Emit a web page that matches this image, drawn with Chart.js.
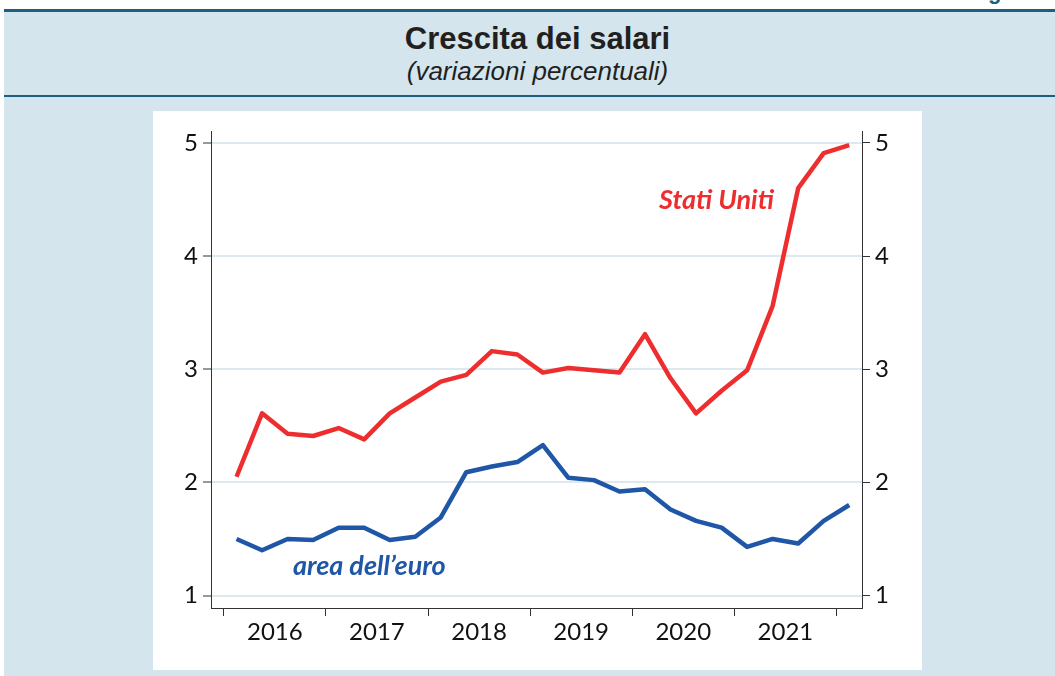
<!DOCTYPE html>
<html>
<head>
<meta charset="utf-8">
<script src="https://cdn.jsdelivr.net/npm/chart.js@4"></script>
<style>
  html, body { margin: 0; padding: 0; }
  body { width: 1055px; height: 676px; overflow: hidden; background: #fff; position: relative; font-family: "Liberation Sans", Arial, sans-serif; }
  #band { position: absolute; left: 4px; top: 9px; width: 1051px; height: 667px; background: #d4e5ee; border-top: 3px solid #1d5f80; box-sizing: border-box; }
  #corner { position: absolute; left: 988px; top: -19px; font: bold 22px/1 "Liberation Sans", Arial, sans-serif; color: #1d5f80; }
  #title { position: absolute; left: 0; width: 1075px; top: 23px; text-align: center; font: bold 31px/1 "Liberation Sans", Arial, sans-serif; color: #231f20; }
  #subtitle { position: absolute; left: 0; width: 1075px; top: 58px; text-align: center; font: italic 26px/1 "Liberation Sans", Arial, sans-serif; color: #231f20; }
  #sep { position: absolute; left: 4px; top: 95px; width: 1051px; height: 2px; background: #1d5f80; }
  #panel { position: absolute; left: 153px; top: 111px; width: 769px; height: 559px; background: #fff; }
</style>
</head>
<body>
<div id="band"></div>
<div id="corner">g</div>
<div id="title">Crescita dei salari</div>
<div id="subtitle">(variazioni percentuali)</div>
<div id="sep"></div>
<div id="panel"><canvas id="wageChart"></canvas></div>

<script>
// trimestri, dal 2016 T1 al 2022 T1
const quarters = ['2016T1', '2016T2', '2016T3', '2016T4',
                  '2017T1', '2017T2', '2017T3', '2017T4',
                  '2018T1', '2018T2', '2018T3', '2018T4',
                  '2019T1', '2019T2', '2019T3', '2019T4',
                  '2020T1', '2020T2', '2020T3', '2020T4',
                  '2021T1', '2021T2', '2021T3', '2021T4',
                  '2022T1'];
const years = ['2016', '2017', '2018', '2019', '2020', '2021'];

const statiUniti = [2.05, 2.61, 2.43, 2.41, 2.48, 2.38, 2.61, 2.75, 2.89, 2.95, 3.16, 3.13,
                    2.97, 3.01, 2.99, 2.97, 3.31, 2.92, 2.61, 2.81, 2.99, 3.56, 4.60, 4.91, 4.98];
const areaEuro = [1.50, 1.40, 1.50, 1.49, 1.60, 1.60, 1.49, 1.52, 1.69, 2.09, 2.14, 2.18,
                  2.33, 2.04, 2.02, 1.92, 1.94, 1.76, 1.66, 1.60, 1.43, 1.50, 1.46, 1.66, 1.80];
const yTicks = [1, 2, 3, 4, 5];

const RED = '#ee2e2e';
const BLUE = '#1f56a6';
const AXIS = '#333333';
const tickFont = { family: 'Lato', size: 24 };

// etichette delle serie scritte dentro il grafico (coordinate nei dati)
const seriesLabels = [
    { text: 'Stati Uniti', q: 18.8, v: 4.49, color: RED },
    { text: 'area dell\u2019euro', q: 5.2, v: 1.26, color: BLUE }
];

// posizioni sull'asse: confini d'anno (tacche) e centri d'anno (etichette)
const yearStart = i => i * 4 - 0.5;
const yearCenter = i => i * 4 + 1.5;
const isBoundary = v => Math.abs(((v + 0.5) % 4)) < 1e-6;

const inlineLabels = {
    id: 'inlineLabels',
    afterDatasetsDraw(chart) {
        const { ctx, scales } = chart;
        ctx.save();
        ctx.font = 'italic bold 27px Lato';
        ctx.textAlign = 'center';
        ctx.textBaseline = 'middle';
        seriesLabels.forEach(l => {
            ctx.fillStyle = l.color;
            ctx.fillText(l.text, scales.x.getPixelForValue(l.q), scales.y.getPixelForValue(l.v));
        });
        ctx.restore();
    }
};

const ctx = document.getElementById('wageChart');
new Chart(ctx, {
    type: 'line',
    data: {
        datasets: [{
            label: 'Stati Uniti',
            data: statiUniti.map((v, i) => ({ x: i, y: v })),
            borderColor: RED,
            borderWidth: 4.5
        }, {
            label: 'area dell\u2019euro',
            data: areaEuro.map((v, i) => ({ x: i, y: v })),
            borderColor: BLUE,
            borderWidth: 4.5
        }]
    },
    options: {
        responsive: true,
        maintainAspectRatio: false,
        animation: false,
        layout: { padding: { top: 20, left: 0, right: 0, bottom: 0 } },
        elements: {
            point: { radius: 0 },
            line: { tension: 0, borderJoinStyle: 'round', borderCapStyle: 'butt' }
        },
        plugins: {
            legend: { display: false },
            tooltip: { enabled: false }
        },
        scales: {
            x: {
                type: 'linear',
                min: -1,
                max: 24.5,
                afterBuildTicks: scale => {
                    const t = [];
                    for (let i = 0; i <= years.length; i++) t.push({ value: yearStart(i) });
                    years.forEach((y, i) => t.push({ value: yearCenter(i) }));
                    scale.ticks = t.sort((a, b) => a.value - b.value);
                },
                ticks: {
                    autoSkip: false,
                    maxRotation: 0,
                    padding: 2,
                    font: tickFont,
                    color: '#111',
                    callback: value => {
                        if (isBoundary(value)) return '';
                        const i = Math.round((value - 1.5) / 4);
                        return years[i] || '';
                    }
                },
                grid: {
                    drawOnChartArea: false,
                    tickLength: 8,
                    tickWidth: 1,
                    tickColor: c => (c.tick && isBoundary(c.tick.value)) ? AXIS : 'rgba(0,0,0,0)'
                },
                border: { color: AXIS, width: 1 },
                afterFit: scale => { scale.height = 62; }
            },
            y: {
                position: 'left',
                min: 0.89,
                max: 5.105,
                afterBuildTicks: scale => { scale.ticks = yTicks.map(v => ({ value: v })); },
                ticks: { padding: 5, font: tickFont, color: '#111' },
                grid: { color: '#dde9ef', lineWidth: 2, tickColor: AXIS, tickWidth: 1, tickLength: 8 },
                border: { color: AXIS, width: 1 },
                afterFit: scale => { scale.width = 58; }
            },
            y2: {
                axis: 'y',
                position: 'right',
                min: 0.89,
                max: 5.105,
                afterBuildTicks: scale => { scale.ticks = yTicks.map(v => ({ value: v })); },
                ticks: { padding: 5, font: tickFont, color: '#111' },
                grid: { drawOnChartArea: false, tickColor: AXIS, tickWidth: 1, tickLength: 8 },
                border: { color: AXIS, width: 1 },
                afterFit: scale => { scale.width = 60; }
            }
        }
    },
    plugins: [inlineLabels]
});
</script>
</body>
</html>
